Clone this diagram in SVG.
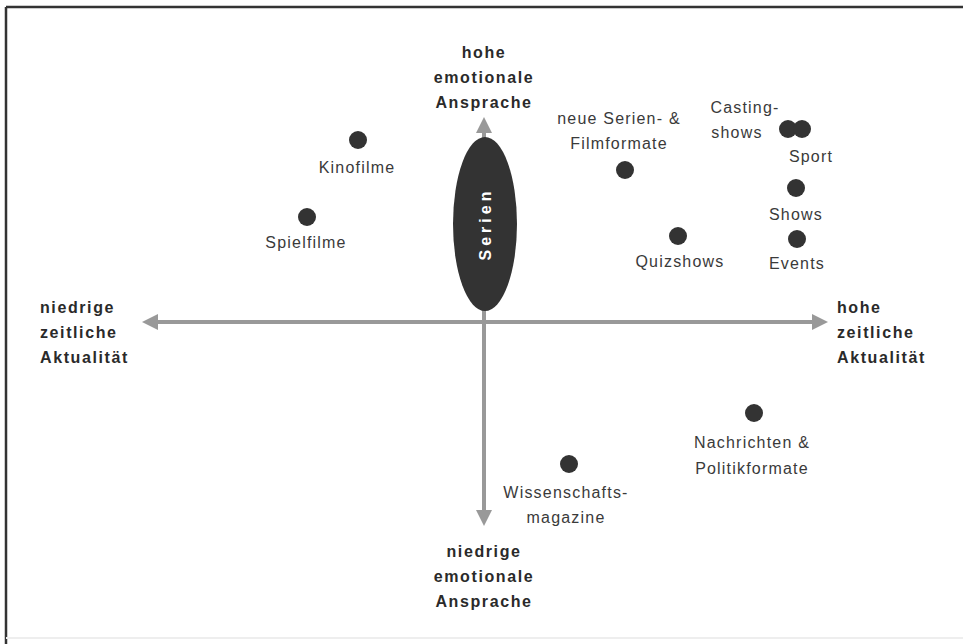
<svg xmlns="http://www.w3.org/2000/svg" width="963" height="644" viewBox="0 0 963 644">
<style>
.lbl{font-family:"Liberation Sans",Arial,sans-serif;font-size:16px;fill:#3a3a3a;letter-spacing:1.2px;text-anchor:middle}
.ax{font-family:"Liberation Sans",Arial,sans-serif;font-size:16px;font-weight:bold;fill:#2a2a2a;letter-spacing:1.6px}
.mid{text-anchor:middle}
.dot{fill:#333}
.axis{stroke:#999;stroke-width:4;fill:none}
</style>
<defs>
<marker id="ah" viewBox="0 0 10 10" refX="5" refY="5" markerWidth="4" markerHeight="4" orient="auto-start-reverse" markerUnits="strokeWidth">
<path d="M0,0 L10,5 L0,10 z" fill="#999"/>
</marker>
</defs>
<rect x="0" y="0" width="963" height="644" fill="#fff"/>
<g id="frame">
<line x1="6" y1="7" x2="963" y2="7" stroke="#333" stroke-width="2.5"/>
<line x1="6" y1="7" x2="6" y2="644" stroke="#333" stroke-width="2.5"/>
<line x1="6" y1="638" x2="963" y2="638" stroke="#eee" stroke-width="2"/>
</g>
<g id="connectors">
<line class="axis" x1="150" y1="322" x2="820" y2="322" marker-start="url(#ah)" marker-end="url(#ah)"/>
<line class="axis" x1="484" y1="125" x2="484" y2="518" marker-start="url(#ah)" marker-end="url(#ah)"/>
</g>
<g id="serien">
<ellipse cx="485" cy="224" rx="32" ry="87" fill="#333"/>
<text transform="translate(491,224) rotate(-90)" font-family="Liberation Sans,Arial,sans-serif" font-size="16" font-weight="bold" fill="#fff" letter-spacing="4" text-anchor="middle">Serien</text>
</g>
<g id="ax-top"><text class="ax mid" x="484" y="58">hohe</text><text class="ax mid" x="484" y="83">emotionale</text><text class="ax mid" x="484" y="108">Ansprache</text></g>
<g id="ax-bottom"><text class="ax mid" x="484" y="557">niedrige</text><text class="ax mid" x="484" y="582">emotionale</text><text class="ax mid" x="484" y="607">Ansprache</text></g>
<g id="ax-left"><text class="ax" x="40" y="313">niedrige</text><text class="ax" x="40" y="338">zeitliche</text><text class="ax" x="40" y="363">Aktualität</text></g>
<g id="ax-right"><text class="ax" x="837" y="313">hohe</text><text class="ax" x="837" y="338">zeitliche</text><text class="ax" x="837" y="363">Aktualität</text></g>
<g id="kinofilme"><circle class="dot" cx="358" cy="140" r="9"/><text class="lbl" x="357" y="173">Kinofilme</text></g>
<g id="spielfilme"><circle class="dot" cx="307" cy="217" r="9"/><text class="lbl" x="306" y="248">Spielfilme</text></g>
<g id="neue-serien"><text class="lbl" x="619" y="124">neue Serien- &amp;</text><text class="lbl" x="619" y="149">Filmformate</text><circle class="dot" cx="625" cy="170" r="9"/></g>
<g id="castingshows"><text class="lbl" x="745" y="113">Casting-</text><text class="lbl" x="737" y="138">shows</text><circle class="dot" cx="788" cy="129" r="9"/><circle class="dot" cx="802" cy="129" r="9"/></g>
<g id="sport"><text class="lbl" x="811" y="162">Sport</text></g>
<g id="shows"><circle class="dot" cx="796" cy="188" r="9"/><text class="lbl" x="796" y="220">Shows</text></g>
<g id="events"><circle class="dot" cx="797" cy="239" r="9"/><text class="lbl" x="797" y="269">Events</text></g>
<g id="quizshows"><circle class="dot" cx="678" cy="236" r="9"/><text class="lbl" x="680" y="267">Quizshows</text></g>
<g id="nachrichten"><circle class="dot" cx="754" cy="413" r="9"/><text class="lbl" x="752" y="448">Nachrichten &amp;</text><text class="lbl" x="752" y="474">Politikformate</text></g>
<g id="wissenschaft"><circle class="dot" cx="569" cy="464" r="9"/><text class="lbl" x="566" y="498">Wissenschafts-</text><text class="lbl" x="566" y="523">magazine</text></g>
</svg>
